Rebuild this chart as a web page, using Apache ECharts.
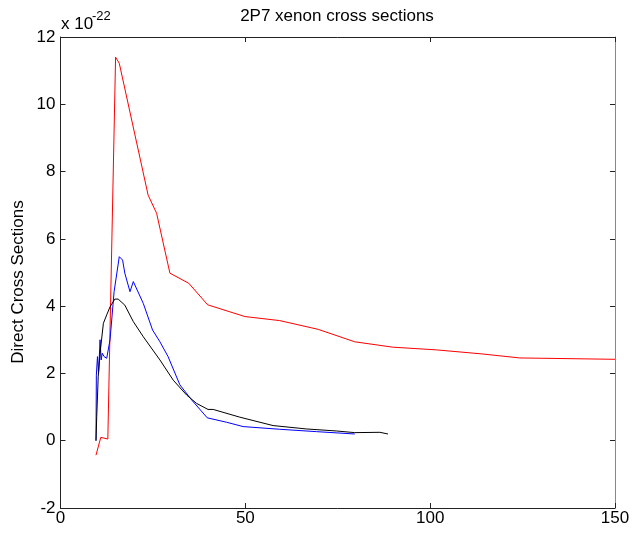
<!DOCTYPE html>
<html><head><meta charset="utf-8">
<script src="https://cdn.jsdelivr.net/npm/echarts@6/dist/echarts.min.js"></script>
<style>html,body{margin:0;padding:0;background:#fff}#c{width:633px;height:535px}</style>
</head><body><div id="c"></div>
<script>
const title = "2P7 xenon cross sections";
const yAxisName = "Direct Cross Sections";
const xTicks = [0, 50, 100, 150];
const yTicks = [-2, 0, 2, 4, 6, 8, 10, 12];

const redX = [9.6, 10.9, 12.8, 14.9, 15.9, 23.7, 26.0, 29.6, 34.7, 39.8, 49.9, 59.3, 69.7, 79.6, 89.9, 101.7, 114, 124.2, 150];
const redY = [-0.43, 0.1, 0.05, 11.4, 11.22, 7.30, 6.76, 4.98, 4.68, 4.04, 3.69, 3.57, 3.31, 2.94, 2.78, 2.70, 2.58, 2.46, 2.42];

const blueX = [9.6, 9.7, 10.0, 10.3, 10.7, 11.0, 11.3, 11.8, 12.5, 13.4, 14.5, 15.9, 16.8, 17.4, 17.9, 18.8, 19.7, 22.4, 24.9, 26.9, 29.1, 32.3, 35.5, 39.7, 44.9, 49.4, 59.3, 69.2, 79.6];
const blueY = [0, 1.95, 2.5, 2.0, 3.0, 2.4, 2.6, 2.5, 2.45, 3.0, 4.43, 5.47, 5.37, 4.98, 5.02, 4.43, 4.73, 4.08, 3.29, 2.94, 2.5, 1.66, 1.21, 0.68, 0.55, 0.42, 0.34, 0.27, 0.20];

const blackX = [9.6, 9.8, 10.2, 10.7, 11.6, 12.5, 13.4, 14.7, 15.6, 17.4, 19.7, 22.4, 26.9, 30.5, 34.1, 36.8, 39.9, 41.3, 48.5, 57.5, 66.5, 74.6, 79.6, 86.4, 88.6];
const blackY = [0, 0.71, 1.9, 2.6, 3.49, 3.74, 3.98, 4.21, 4.21, 4.03, 3.54, 3.09, 2.40, 1.80, 1.36, 1.11, 0.93, 0.93, 0.70, 0.45, 0.35, 0.29, 0.24, 0.25, 0.20];

const pairs = (xs, ys) => xs.map((x, i) => [x, ys[i]]);
const font = "Liberation Sans, Arial, sans-serif";

const chart = echarts.init(document.getElementById('c'), null, {renderer: 'canvas'});
const axisLineStyle = {color: '#222', width: 1};
const xBase = {type: 'value', min: xTicks[0], max: xTicks[xTicks.length - 1], interval: 50, splitLine: {show: false},
  axisTick: {inside: true, length: 5, lineStyle: {color: '#222'}}};
const yBase = {type: 'value', min: yTicks[0], max: yTicks[yTicks.length - 1], interval: 2, splitLine: {show: false},
  axisTick: {inside: true, length: 5, lineStyle: {color: '#222'}}};
chart.setOption({
  animation: false,
  backgroundColor: '#fff',
  grid: {left: 60.5, right: 18, top: 37, bottom: 27, containLabel: false},
  xAxis: [
    Object.assign({}, xBase, {position: 'bottom', axisLine: {onZero: false, lineStyle: axisLineStyle},
      axisLabel: {fontFamily: font, fontSize: 17, color: '#000', margin: 2}}),
    Object.assign({}, xBase, {position: 'top', axisLine: {onZero: false, lineStyle: axisLineStyle},
      axisLabel: {show: false}})
  ],
  yAxis: [
    Object.assign({}, yBase, {position: 'left', axisLine: {onZero: false, lineStyle: axisLineStyle},
      axisLabel: {fontFamily: font, fontSize: 17, color: '#000', margin: 5}}),
    Object.assign({}, yBase, {position: 'right', axisLine: {onZero: false, lineStyle: {color: '#888', width: 1}},
      axisLabel: {show: false}})
  ],
  graphic: [
    {
      type: 'text', x: 337, y: 16,
      style: {text: title, fontFamily: font, fontSize: 17, fill: '#000', align: 'center', verticalAlign: 'middle'}
    },
    {
      type: 'text', x: 18, y: 282, rotation: Math.PI / 2,
      style: {text: yAxisName, fontFamily: font, fontSize: 17, fill: '#000', align: 'center', verticalAlign: 'middle'}
    },
    {
      type: 'text', x: 61, y: 24,
      style: {text: 'x 10', fontFamily: font, fontSize: 17, fill: '#000', align: 'left', verticalAlign: 'middle'}
    },
    {
      type: 'text', x: 92, y: 16,
      style: {text: '-22', fontFamily: font, fontSize: 13, fill: '#000', align: 'left', verticalAlign: 'middle'}
    }
  ],
  series: [
    {type: 'line', data: pairs(redX, redY), showSymbol: false, lineStyle: {color: '#ff0000', width: 1}, itemStyle: {color: '#ff0000'}},
    {type: 'line', data: pairs(blueX, blueY), showSymbol: false, lineStyle: {color: '#0000ff', width: 1}, itemStyle: {color: '#0000ff'}},
    {type: 'line', data: pairs(blackX, blackY), showSymbol: false, lineStyle: {color: '#000000', width: 1}, itemStyle: {color: '#000'}}
  ]
});
</script></body></html>
